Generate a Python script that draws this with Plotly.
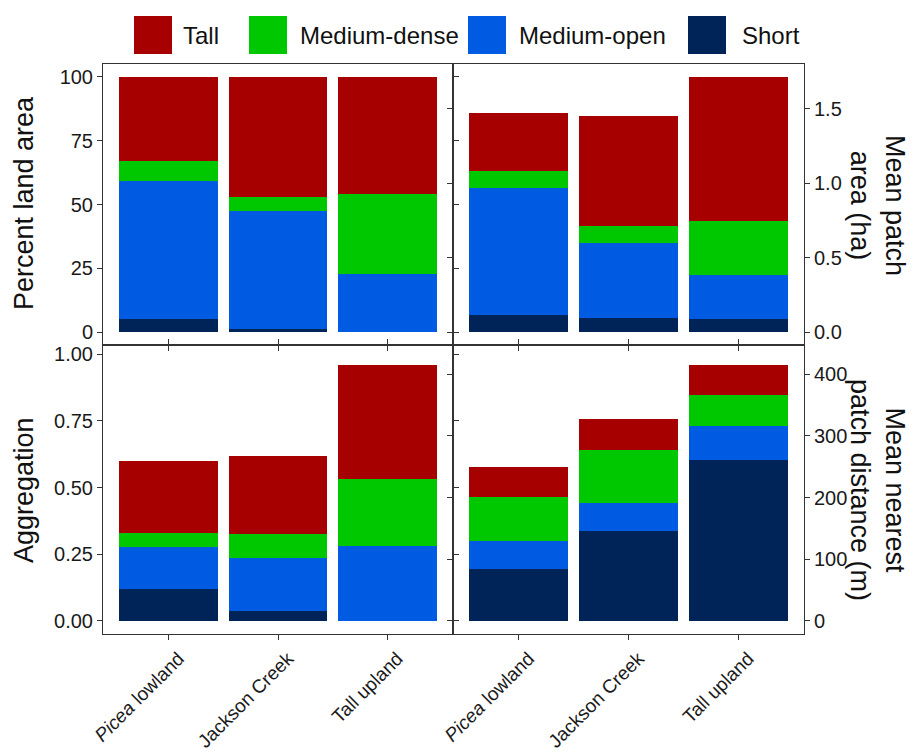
import plotly.graph_objects as go

# ---------------- data ----------------
categories = ["<i>Picea</i> lowland", "Jackson Creek", "Tall upland"]
classes = ["Short", "Medium-open", "Medium-dense", "Tall"]
legend_order = ["Tall", "Medium-dense", "Medium-open", "Short"]
colors = {"Tall": "#A60000", "Medium-dense": "#00C800",
          "Medium-open": "#005BE3", "Short": "#002358"}

# Percent land area
pla_short = [5.0, 1.1, 0.0]
pla_mopen = [54.2, 46.5, 22.8]
pla_mdense = [7.9, 5.2, 31.2]
pla_tall = [32.9, 47.2, 46.0]

# Mean patch area (ha)
mpa_short = [0.118, 0.096, 0.087]
mpa_mopen = [0.851, 0.505, 0.299]
mpa_mdense = [0.114, 0.114, 0.362]
mpa_tall = [0.390, 0.732, 0.965]

# Aggregation
agg_short = [0.120, 0.039, 0.0]
agg_mopen = [0.157, 0.198, 0.281]
agg_mdense = [0.051, 0.089, 0.250]
agg_tall = [0.272, 0.292, 0.427]

# Mean nearest patch distance (m)
dist_short = [84.8, 145.4, 260.6]
dist_mopen = [45.4, 45.4, 55.6]
dist_mdense = [70.4, 86.0, 50.8]
dist_tall = [49.1, 50.3, 47.6]

panels = [
    ("x", "y", [pla_short, pla_mopen, pla_mdense, pla_tall]),
    ("x2", "y2", [mpa_short, mpa_mopen, mpa_mdense, mpa_tall]),
    ("x3", "y3", [agg_short, agg_mopen, agg_mdense, agg_tall]),
    ("x4", "y4", [dist_short, dist_mopen, dist_mdense, dist_tall]),
]

W, H = 916, 754
FONT = "Liberation Sans, Arial, sans-serif"
LINE = "#333333"

fig = go.Figure()
for xa, ya, series in panels:
    for name, vals in zip(classes, series):
        fig.add_trace(go.Bar(x=categories, y=vals, name=name, xaxis=xa, yaxis=ya,
                             marker=dict(color=colors[name], line=dict(width=0)),
                             showlegend=False))

def px_x(p):
    return p / W

def px_y(p):
    return 1 - p / H

xl = [px_x(103), px_x(453)]
xr = [px_x(453), px_x(804)]
yt = [px_y(345), px_y(64)]
yb = [px_y(634), px_y(345)]

tickfont = dict(family=FONT, size=20, color="#1a1a1a")
xtickfont = dict(family=FONT, size=19, color="#1a1a1a")
common_x = dict(range=[-0.6, 2.6], showgrid=False, zeroline=False, showline=True,
                linecolor=LINE, linewidth=1, ticks="outside", ticklen=5,
                tickcolor=LINE, tickwidth=1, tickfont=xtickfont, fixedrange=True,
                automargin=False)
common_y = dict(showgrid=False, zeroline=False, showline=True, linecolor=LINE,
                linewidth=1, ticks="outside", ticklen=5, tickcolor=LINE,
                tickwidth=1, tickfont=tickfont, mirror="ticks", automargin=False)

fig.update_layout(
    template="none",
    width=W, height=H, barmode="stack", bargap=0.1,
    margin=dict(l=0, r=0, t=0, b=0, pad=0, autoexpand=False),
    paper_bgcolor="white", plot_bgcolor="white",
    font=dict(family=FONT, color="#1a1a1a"),
    showlegend=False,
    xaxis=dict(domain=xl, anchor="y", showticklabels=False, mirror=True, **common_x),
    xaxis2=dict(domain=xr, anchor="y2", showticklabels=False, mirror=True, **common_x),
    xaxis3=dict(domain=xl, anchor="y3", tickangle=-45, mirror="ticks",
                ticklabelshift=10, ticklabelstandoff=0, **common_x),
    xaxis4=dict(domain=xr, anchor="y4", tickangle=-45, mirror="ticks",
                ticklabelshift=10, ticklabelstandoff=0, **common_x),
    yaxis=dict(domain=yt, anchor="x", range=[-5, 105],
               tickvals=[0, 25, 50, 75, 100], **common_y),
    yaxis2=dict(domain=yt, anchor="x2", side="right", range=[-0.0857, 1.799],
                tickvals=[0, 0.5, 1.0, 1.5], tickformat=".1f", **common_y),
    yaxis3=dict(domain=yb, anchor="x3", range=[-0.049, 1.034],
                tickvals=[0, 0.25, 0.5, 0.75, 1.0], tickformat=".2f", **common_y),
    yaxis4=dict(domain=yb, anchor="x4", side="right", range=[-21.1, 447.5],
                tickvals=[0, 100, 200, 300, 400], **common_y),
)

# axis titles
title_font = dict(family=FONT, size=27, color="#111111")
ann = [
    dict(text="Percent land area", x=px_x(24), y=px_y(203), textangle=-90),
    dict(text="Aggregation", x=px_x(24), y=px_y(490), textangle=-90),
    dict(text="Mean patch<br>area (ha)", x=px_x(877), y=px_y(205), textangle=90),
    dict(text="Mean nearest<br>patch distance (m)", x=px_x(878), y=px_y(490), textangle=90),
]
for a in ann:
    fig.add_annotation(xref="paper", yref="paper", showarrow=False,
                       xanchor="center", yanchor="middle", font=title_font, **a)

# legend (manual, large keys)
key_left = [134, 249, 468, 688]
text_left = [181, 298, 517, 740]
for name, kl, tl in zip(legend_order, key_left, text_left):
    fig.add_shape(type="rect", xref="paper", yref="paper",
                  x0=px_x(kl), x1=px_x(kl + 38), y0=px_y(54), y1=px_y(16),
                  fillcolor=colors[name], line=dict(width=0))
    fig.add_annotation(xref="paper", yref="paper", showarrow=False,
                       x=px_x(tl), y=px_y(36), xanchor="left", yanchor="middle",
                       text=name, font=dict(family=FONT, size=24, color="#111111"))

fig.write_html(
    "out.html",
    config={"displayModeBar": False},
    post_script="document.body.style.margin='0';document.body.style.overflow='hidden';",
)
